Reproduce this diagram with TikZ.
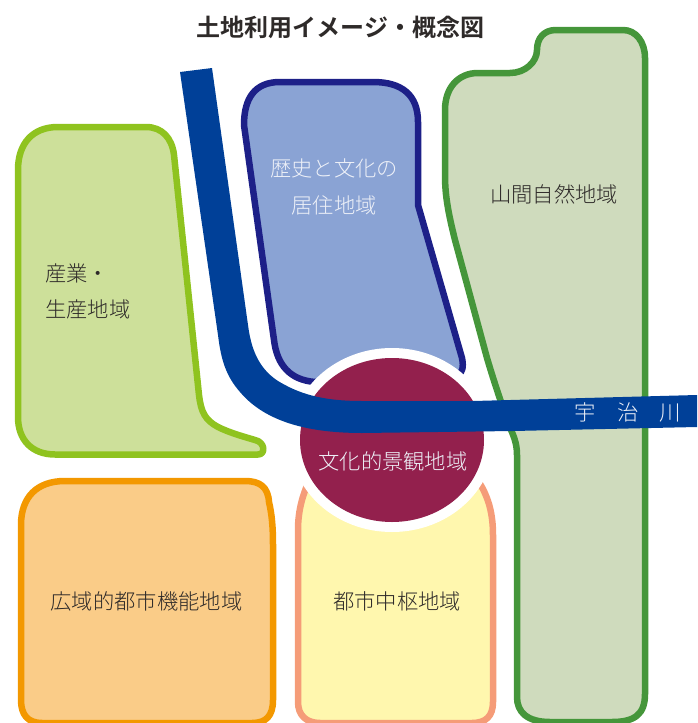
\documentclass[tikz,border=0pt]{standalone}
\usepackage{fontspec}
\setmainfont{Noto Sans CJK JP}[BoldFont={Noto Sans CJK JP Bold}]
\newfontfamily\lightcjk{Noto Sans CJK JP Light}
\definecolor{txt}{HTML}{2E2A29}
\definecolor{txtw}{HTML}{EEF1F8}
\definecolor{indf}{HTML}{CDE09A}\definecolor{inds}{HTML}{8FC31F}
\definecolor{hisf}{HTML}{8AA3D4}\definecolor{hiss}{HTML}{1D2088}
\definecolor{monf}{HTML}{CFDBBD}\definecolor{mons}{HTML}{45963A}
\definecolor{orgf}{HTML}{FACC88}\definecolor{orgs}{HTML}{F39800}
\definecolor{yelf}{HTML}{FFF7AE}\definecolor{yels}{HTML}{F59C78}
\definecolor{river}{HTML}{004098}
\definecolor{maroon}{HTML}{93204D}
\tikzset{
  area/.style={line width=6.5pt,line join=round},
  lab/.style={anchor=base,inner sep=0pt,text=txt,font=\lightcjk\fontsize{21.3}{25}\selectfont},
  labw/.style={lab,text=txtw},
  ttl/.style={anchor=base,inner sep=0pt,text=txt,font=\bfseries\fontsize{24}{28}\selectfont}
}
\begin{document}
\begin{tikzpicture}[x=1pt,y=-1pt]
\useasboundingbox (0,0) rectangle (697,723);
\begin{scope}
\clip (0,0) rectangle (697,723);
% industrial
\draw[area,draw=inds,fill=indf] (18,170) .. controls (18,143) and (33,127) .. (58,127)
  -- (146,127) .. controls (162,127) and (172,138) .. (174,155)
  -- (199,395) .. controls (201,412) and (205,420) .. (218,427)
  .. controls (230,433) and (245,437) .. (255,440)
  .. controls (265,442) and (266,454.5) .. (258,454.5)
  -- (55,454.5) .. controls (32,454.5) and (18,440) .. (18,417) -- cycle;
% historical
\draw[area,draw=hiss,fill=hisf] (244,125) .. controls (244,98) and (255,82) .. (280,82)
  -- (373,82) .. controls (402,82) and (418,95) .. (418,122)
  -- (418,205) -- (462,358) .. controls (464,368) and (462,372) .. (458,376)
  -- (315,382) .. controls (290,380) and (277,365) .. (274,340) -- cycle;
% mountain
\draw[area,draw=mons,fill=monf] (445,110) .. controls (445,88) and (458,73) .. (478,73)
  -- (510,73) .. controls (525,73) and (537,62) .. (537,50)
  .. controls (537,38) and (544,30) .. (556,30)
  -- (623,30) .. controls (636,30) and (645,42) .. (645,58)
  -- (645,694) .. controls (645,714) and (635,722) .. (612,722)
  -- (550,722) .. controls (527,722) and (517,712) .. (517,697)
  -- (517,455) .. controls (517,442) and (513,435) .. (509,425)
  .. controls (503,408) and (495,385) .. (487,358)
  -- (455,240) .. controls (448,212) and (445,195) .. (445,175) -- cycle;
% orange
\draw[area,draw=orgs,fill=orgf] (21,525) .. controls (21,497) and (37,481) .. (65,481)
  -- (245,481) .. controls (260,481) and (268,487) .. (269,502)
  .. controls (272,515) and (273,528) .. (273,545)
  -- (273,700) .. controls (273,716) and (266,723) .. (252,723)
  -- (42,723) .. controls (28,723) and (21,715) .. (21,700) -- cycle;
% yellow
\draw[area,draw=yels,fill=yelf] (298,530) .. controls (298,510) and (303,490) .. (315,470)
  -- (470,470) .. controls (487,490) and (493,510) .. (493,535)
  -- (493,702) .. controls (493,716) and (486,723) .. (472,723)
  -- (320,723) .. controls (306,723) and (298,715) .. (298,702) -- cycle;
\end{scope}
% central area
\fill[white] (392,440) ellipse [x radius=102pt,y radius=92pt];
\fill[maroon] (392,440) ellipse [x radius=92pt,y radius=82pt];
% river
\fill[river] (180,72) -- (212,68) -- (248,325)
  .. controls (251,348) and (258,368) .. (278,381)
  .. controls (298,393) and (320,401) .. (362,401)
  -- (473,401) -- (697,395) -- (697,427) -- (513,431) -- (362,433)
  .. controls (300,433) and (262,418) .. (240,392)
  .. controls (226,376) and (221,360) .. (218,335) -- cycle;
% labels
\node[ttl] (title) at (340.5,36) {土地利用イメージ・概念図};
\node[labw] (his1) at (334,176) {歴史と文化の};
\node[labw] (his2) at (334,213) {居住地域};
\node[lab,anchor=base west] (ind1) at (45,281) {産業・};
\node[lab,anchor=base west] (ind2) at (45,317) {生産地域};
\node[lab] (mon) at (554,202) {山間自然地域};
\node[labw] (riv) at (628,420) {宇　治　川};
\node[labw] (cul) at (393,469) {文化的景観地域};
\node[lab] (wide) at (146.5,609) {広域的都市機能地域};
\node[lab] (cen) at (397,609) {都市中枢地域};
\end{tikzpicture}
\end{document}
